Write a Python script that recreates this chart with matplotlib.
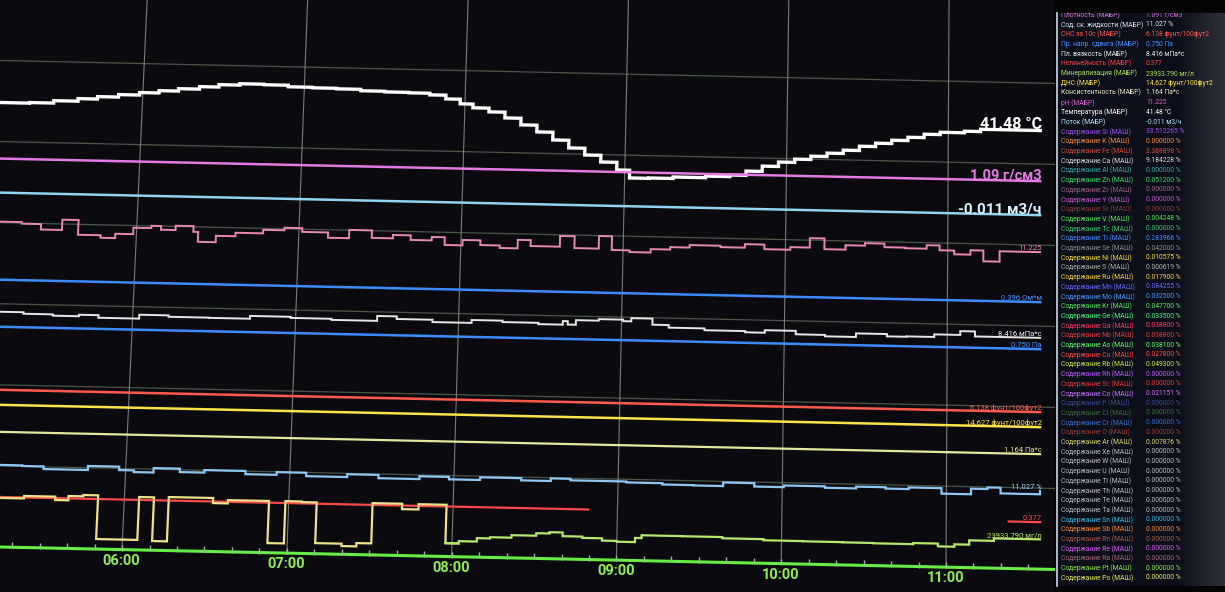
import matplotlib
matplotlib.use("Agg")
import matplotlib.pyplot as plt
import matplotlib.transforms as mtransforms
import numpy as np


# -------------------- Data --------------------------
# time in hours, level in screen rows of the trend area (0 = top)

HOURS = [6, 7, 8, 9, 10, 11]
HOUR_LABELS = ["06:00", "07:00", "08:00", "09:00", "10:00", "11:00"]
T_START, T_END = 5.0, 11.57

GRID_LEVELS = [61, 142, 223, 304, 385, 466]
AXIS_LEVEL = 547

TEMP_T = [5.10, 5.30, 5.45, 5.60, 5.72, 5.85, 5.98, 6.10, 6.22, 6.35, 6.47, 6.60,
          6.75, 6.90, 7.05, 7.20, 7.35, 7.50, 7.65, 7.78, 7.88, 7.97, 8.05, 8.15,
          8.25, 8.35, 8.45, 8.55, 8.65, 8.75, 8.85, 8.95, 9.03, 9.15, 9.30, 9.50,
          9.65, 9.75, 9.85, 9.95, 10.05, 10.15, 10.25, 10.35, 10.45, 10.55, 10.65,
          10.75, 10.85, 10.95, 11.10, 11.20, 11.57]
TEMP_LVL = [103, 102.4, 100, 97.4, 95, 92.5, 90, 87.7, 85.3, 82.8, 80.4, 79,
            79.5, 81, 81.5, 82, 83.4, 84, 84.4, 86, 89.7, 94.3, 98, 101.7,
            107.4, 114, 120.7, 128.4, 136, 142.7, 149.4, 157, 164.7, 164.3, 162.8, 161.2,
            159.6, 155.3, 150, 145.6, 142.3, 139, 135.6, 132.3, 128, 124.6, 121.3,
            118, 114.6, 112.3, 110.7, 108.4, 108.4]

DENSITY_LVL = 159
FLOW_LVL = 193
RESIST_LVL = 280
YIELD_LVL = 327
GEL_LVL = 390
DNS_LVL = 405
CONSIST_LVL = 432

PH_T = [5.10, 5.29, 5.41, 5.54, 5.64, 5.78, 5.87, 5.98, 6.09, 6.15, 6.24, 6.35,
        6.38, 6.49, 6.61, 6.78, 6.91, 7.02, 7.18, 7.31, 7.45, 7.58, 7.69, 7.82,
        7.90, 8.01, 8.12, 8.24, 8.35, 8.43, 8.61, 8.70, 8.85, 8.93, 9.04, 9.17,
        9.29, 9.41, 9.60, 9.75, 9.87, 10.03, 10.15, 10.24, 10.37, 10.49, 10.61,
        10.74, 10.87, 10.95, 11.04, 11.14, 11.22, 11.32, 11.57]
PH_LVL = [222, 223.6, 229, 218.7, 233.4, 236, 231.6, 225.2, 222.9, 226.6, 222.3, 228,
          237.9, 231.5, 228, 224.5, 222, 225.7, 231, 222.7, 230.2, 226.8, 231.4, 228,
          235.7, 230.3, 235, 237.5, 229, 234.9, 224.2, 236, 223.4, 237.1, 238.8, 235.4,
          233, 230.5, 231.9, 228.4, 233, 230.4, 221, 231.7, 227.3, 224.8, 228.4,
          229, 225.5, 230.3, 234, 229.6, 240.4, 230, 230]

PV_T = [5.10, 5.33, 5.51, 5.67, 5.79, 6.04, 6.22, 6.47, 6.72, 6.97, 7.22, 7.50,
        7.62, 7.84, 8.08, 8.27, 8.49, 8.64, 8.67, 8.72, 8.86, 9.01, 9.06, 9.19,
        9.29, 9.51, 9.76, 9.88, 10.07, 10.25, 10.44, 10.63, 10.75, 10.92, 11.08,
        11.17, 11.57]
PV_LVL = [312, 313.5, 314.8, 313.3, 315.9, 312, 313.4, 313.6, 310.8, 311.9, 313, 308.1,
          310.7, 313, 310.1, 311.5, 312.8, 309.2, 312.6, 308, 306.5, 308, 304.8, 310.9,
          313.5, 315.3, 316.5, 314, 317.4, 318.8, 315.2, 317.5, 317.1, 314.5, 310.7,
          315.7, 315.7]

SOLIDS_T = [5.10, 5.37, 5.50, 5.77, 5.96, 6.05, 6.17, 6.33, 6.48, 6.73, 6.92, 7.10,
            7.35, 7.54, 7.79, 7.97, 8.16, 8.41, 8.59, 8.71, 9.05, 9.27, 9.46, 9.64,
            9.83, 10.01, 10.26, 10.45, 10.63, 10.77, 10.97, 11.15, 11.25, 11.33, 11.57]
SOLIDS_LVL = [465, 465.6, 468.2, 464.2, 467.6, 469.3, 464.9, 468.3, 465.8, 469, 466.3, 469.7,
              466.9, 470.2, 467.4, 469.8, 467.1, 469.3, 466.7, 468.2, 469.1, 470.4, 470.7, 467.1,
              470.5, 468.8, 470.2, 468.4, 469.7, 468.1, 473.6, 468, 466.4, 472.1, 468.8]

NONLIN_T = [T_START, 8.82, 8.82, 11.38, T_END]
NONLIN_LVL = [497, 497, np.nan, 500, 500]

MUD_T = [5.10, 5.39, 5.58, 5.66, 5.75, 5.84, 6.09, 6.18, 6.27, 6.54, 6.63, 6.88,
         6.98, 7.08, 7.17, 7.33, 7.42, 7.51, 7.69, 7.79, 7.96, 8.04]
MUD_LVL = [498, 495.5, 498.9, 494.6, 493.3, 537, 494.1, 537.8, 493.5, 498.6, 495.3, 537.4,
           495.1, 495.7, 536.4, 538.8, 535.5, 495.2, 500.6, 495.3, 533.7, 533.7]

MINER_T = [7.96, 8.04, 8.15, 8.23, 8.36, 8.51, 8.59, 8.67, 8.79, 8.91, 9.00, 9.11,
           9.15, 9.40, 9.64, 9.89, 10.13, 10.37, 10.56, 10.80, 10.95, 11.05, 11.14,
           11.29, 11.57]
MINER_LVL = [533.7, 531.4, 528, 526.8, 524.3, 521.8, 520.5, 524.2, 525.5, 527.8, 528.6, 524.4,
             521.6, 521.7, 522.9, 524, 524.2, 524.4, 524.7, 523.6, 526.4, 524, 519.7,
             517.2, 517.2]

# right-hand tag of every trace: text, level, colour, font size, bold
TRACE_TAGS = [
    ("41.48 °C",            107.0, "#ffffff", 11.5, True),
    ("1.09 г/см3",          157.0, "#e47ae6", 10.5, True),
    ("-0.011 м3/ч",         191.0, "#d8f2ff", 11.0, True),
    ("11.225",              228.0, "#e889b5", 5.5, False),
    ("0.396 Ом*м",          278.0, "#4a94ff", 5.5, False),
    ("8.416 мПа*с",         313.5, "#f0f0f0", 5.5, False),
    ("0.750 Па",            325.0, "#4a94ff", 5.5, False),
    ("6.138 фунт/100фут2",  387.5, "#ff5a4a", 5.5, False),
    ("14.627 фунт/100фут2", 402.5, "#ffe24a", 5.5, False),
    ("1.164 Па*с",          430.0, "#e4e89a", 5.5, False),
    ("11.027 %",            466.5, "#a8dcff", 5.5, False),
    ("0.377",               498.0, "#ff4a4a", 5.5, False),
    ("23933.790 мг/л",      515.0, "#b5e86a", 5.5, False),
]

# side panel
PANEL_NAMES = [
    "Плотность (МАБР)", "Сод. ск. жидкости (МАБР)", "СНС за 10с (МАБР)",
    "Пр. напр. сдвига (МАБР)", "Пл. вязкость (МАБР)", "Нелинейность (МАБР)",
    "Минерализация (МАБР)", "ДНС (МАБР)", "Консистентность (МАБР)", "pH (МАБР)",
    "Температура (МАБР)", "Поток (МАБР)",
] + ["Содержание %s (МАШ)" % el for el in [
    "Si", "K", "Fe", "Ca", "Al", "Zn", "Zr", "Y", "Sr", "V", "Tc", "Ti", "Se", "Ni",
    "S", "Ru", "Mn", "Mo", "Kr", "Ge", "Ga", "Nb", "As", "Cu", "Rb", "Rh", "Sc", "Co",
    "P", "Cl", "Cr", "O", "Ar", "Xe", "W", "U", "Tl", "Th", "Te", "Ta", "Sn", "Sb",
    "Rn", "Re", "Ra", "Pt", "Po"]]

PANEL_VALUES = [
    "1.091 г/см3", "11.027 %", "6.138 фунт/100фут2", "0.750 Па", "8.416 мПа*с",
    "0.377", "23933.790 мг/л", "14.627 фунт/100фут2", "1.164 Па*с", "11.225",
    "41.48 °C", "-0.011 м3/ч",
    "33.512265 %", "0.000000 %", "3.388898 %", "9.184228 %", "0.000000 %",
    "0.051200 %", "0.000000 %", "0.000000 %", "0.000000 %", "0.004248 %",
    "0.000000 %", "0.283968 %", "0.042000 %", "0.010575 %", "0.000619 %",
    "0.017900 %", "0.084255 %", "0.032500 %", "0.047700 %", "0.033500 %",
    "0.038800 %", "0.038800 %", "0.038100 %", "0.027800 %", "0.049300 %",
    "0.000000 %", "0.000000 %", "0.021151 %", "0.000000 %", "0.000000 %",
    "0.000000 %", "0.000000 %", "0.007876 %", "0.000000 %", "0.000000 %",
    "0.000000 %", "0.000000 %", "0.000000 %", "0.000000 %", "0.000000 %",
    "0.000000 %", "0.000000 %", "0.000000 %", "0.000000 %", "0.000000 %",
    "0.000000 %", "0.000000 %",
]

PANEL_COLORS = [
    "#e070e0", "#dfe8f5", "#ff5a50", "#4a90ff", "#f0f0f0", "#ff4040", "#a8e45a",
    "#ffe84a", "#e8e8c8", "#e060d8", "#ffffff", "#b8e4ff",
    "#a050f0", "#ff8a3a", "#d04a3a", "#e0e0e0", "#3aa8a8", "#3ed860", "#a86088",
    "#d050d8", "#8a3a3a", "#4ee84e", "#40c868", "#4a8cff", "#8c8c8c", "#ffe040",
    "#a8b8a8", "#ffd23a", "#6868ff", "#4a98ff", "#58e858", "#40ff70", "#ff3a60",
    "#e03a3a", "#60ff60", "#ff4a3a", "#c8e840", "#c058ff", "#e03838", "#d070ff",
    "#3a4a90", "#3a6a3a", "#3a6ad0", "#a03838", "#d8d870", "#bdbdbd", "#bdbdbd",
    "#bdbdbd", "#bdbdbd", "#bdbdbd", "#bdbdbd", "#bdbdbd", "#38b8e8", "#ff8a38",
    "#a85a48", "#e058ff", "#a86878", "#88e848", "#e8f060",
]


# -------------------- Helpers --------------------------

class Keystone(mtransforms.Transform):
    """Camera angle of the photo: screen leans at the left and drifts down to the right."""
    input_dims = 2
    output_dims = 2

    def __init__(self, lean, drop, width, base):
        super().__init__()
        self.lean, self.drop, self.width, self.base = lean, drop, width, base

    def transform_non_affine(self, values):
        values = np.asarray(values, dtype=float)
        x, y = values[:, 0], values[:, 1]
        xn = x + self.lean * (1 - x / self.width) * (y - self.base)
        yn = y - self.drop * x
        return np.column_stack([xn, yn])


def _step(ax, tr, t, lvl, color, lw):
    ax.plot(t, lvl, color=color, lw=lw, drawstyle="steps-post",
            transform=tr, solid_joinstyle="miter", zorder=3)


def _flat(ax, tr, lvl, color, lw=1.8):
    ax.plot([T_START, T_END], [lvl, lvl], color=color, lw=lw, transform=tr, zorder=3)


# -------------------- Figure --------------------------

W, H = 1225, 592
CHART_W = 1055
PANEL_X = 1057
PANEL_TOP, PANEL_BOTTOM = 13, 586

fig = plt.figure(figsize=(W / 100, H / 100), dpi=100, facecolor="#040405")

ax = fig.add_axes([0, 0, CHART_W / W, 1])
ax.set_facecolor("#0b0b0f")
ax.set_xlim(6 - 122 / 164.8, 6 + (CHART_W - 122) / 164.8)
ax.set_ylim(H, 0)
for s in ax.spines.values():
    s.set_visible(False)
ax.set_xticks([])
ax.set_yticks([])

tr = ax.transData + Keystone(lean=0.0517, drop=0.0213, width=CHART_W, base=H - AXIS_LEVEL)

# grid
for lvl in GRID_LEVELS:
    ax.plot([T_START, T_END + 0.1], [lvl, lvl], color="#475547", lw=0.9,
            transform=tr, zorder=1)
for h in HOURS:
    ax.plot([h, h], [-30, AXIS_LEVEL], color="#8e8e8e", lw=0.8, alpha=0.85,
            transform=tr, zorder=1)

# traces
_step(ax, tr, TEMP_T, TEMP_LVL, "#ffffff", 2.4)
_flat(ax, tr, DENSITY_LVL, "#e47ae6")
_flat(ax, tr, FLOW_LVL, "#8fd3f5")
_step(ax, tr, PH_T, PH_LVL, "#e889b5", 1.4)
_flat(ax, tr, RESIST_LVL, "#3d8cff")
_step(ax, tr, PV_T, PV_LVL, "#e8e8e8", 1.4)
_flat(ax, tr, YIELD_LVL, "#3d8cff")
_flat(ax, tr, GEL_LVL, "#ff5a4a")
_flat(ax, tr, DNS_LVL, "#ffe24a")
_flat(ax, tr, CONSIST_LVL, "#e4e89a", 1.6)
_step(ax, tr, SOLIDS_T, SOLIDS_LVL, "#8cc8f5", 1.6)
ax.plot(NONLIN_T, NONLIN_LVL, color="#ff4a4a", lw=1.6, transform=tr, zorder=3)
_step(ax, tr, MUD_T, MUD_LVL, "#efe28a", 1.6)
_step(ax, tr, MINER_T, MINER_LVL, "#b5e86a", 1.6)

# time axis
ax.plot([T_START, T_END + 0.1], [AXIS_LEVEL, AXIS_LEVEL], color="#66ee44", lw=2.2,
        transform=tr, zorder=4)
ticks = np.arange(5 + 2 / 6, 11.6, 1 / 6)
ax.plot(ticks, np.full(len(ticks), AXIS_LEVEL - 2), ls="none", marker="|",
        ms=4, color="#9ab89a", transform=tr, zorder=4)
for h, lab in zip(HOURS, HOUR_LABELS):
    ax.text(h, AXIS_LEVEL + 11, lab, color="#92ef52", fontsize=10.5,
            fontweight="bold", family="Roboto", ha="center", va="center",
            transform=tr, zorder=5)

# trace tags
for text, lvl, color, size, bold in TRACE_TAGS:
    ax.text(T_END + 0.01, lvl, text, color=color, fontsize=size,
            fontweight="bold" if bold else "normal", family="Roboto",
            ha="right", va="baseline", transform=tr, zorder=5)

# -------------------- Side panel --------------------------

ax2 = fig.add_axes([PANEL_X / W, (H - PANEL_BOTTOM) / H,
                    (W - PANEL_X) / W, (PANEL_BOTTOM - PANEL_TOP) / H])
ax2.set_facecolor("#0c0f1a")
ax2.set_xticks([])
ax2.set_yticks([])
for side in ["top", "right", "bottom"]:
    ax2.spines[side].set_visible(False)
ax2.spines["left"].set_color("#cfd8e8")
ax2.spines["left"].set_linewidth(1.2)

# screen glare on the right edge of the panel
glare = np.zeros((1, 64, 4))
glare[..., :3] = 0.55
glare[0, :, 3] = np.linspace(0, 0.28, 64)
ax2.imshow(glare, extent=(120, W - PANEL_X, PANEL_BOTTOM, PANEL_TOP),
           aspect="auto", zorder=0)

for i, (name, val, col) in enumerate(zip(PANEL_NAMES, PANEL_VALUES, PANEL_COLORS)):
    y = 15.3 + 9.7 * i
    for x, s in ((4, name), (89, val)):
        t = ax2.text(x, y, s, color=col, fontsize=4.9, family="Roboto",
                     ha="left", va="center", clip_on=True, zorder=2)
        t.set_clip_box(ax2.bbox)

ax2.set_xlim(0, W - PANEL_X)
ax2.set_ylim(PANEL_BOTTOM, PANEL_TOP)

fig.savefig("out.png", dpi=100, facecolor=fig.get_facecolor())
